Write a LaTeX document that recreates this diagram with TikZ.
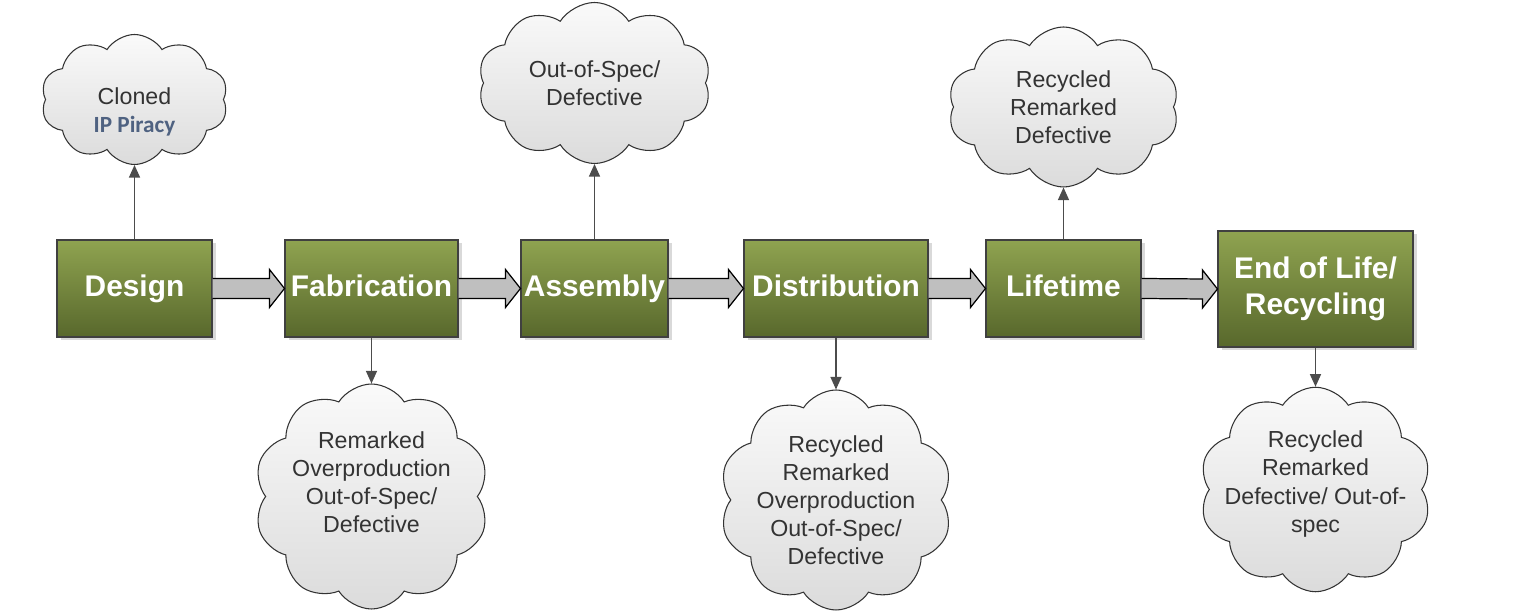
\documentclass[tikz,border=0pt]{standalone}
\usepackage{fontspec}
\setmainfont{Liberation Sans}
\newfontfamily\calibrifont{Carlito}
\usepackage{xcolor}
\usepackage{tikz}
\usetikzlibrary{arrows.meta, shapes.symbols, positioning, shadows, calc}

\definecolor{stagetop}{RGB}{143,163,80}
\definecolor{stagebot}{RGB}{88,104,44}
\definecolor{piracy}{RGB}{79,98,129}

\begin{document}
\begin{tikzpicture}[>={Triangle[length=0.25cm, width=0.22cm]},
        font=\fontsize{13.2}{16}\selectfont,
        stage/.style={draw=black!75, line width=0.6pt, top color=stagetop, bottom color=stagebot,
              text=white, font=\fontsize{17}{20.5}\selectfont\bfseries, align=center,
              inner sep=1pt, minimum height=1.94cm,
              drop shadow={shadow xshift=0.07cm, shadow yshift=-0.07cm, fill=black, opacity=0.15}},
        oneline/.style={stage, text height=1em, text depth=0.1em},
        issue/.style={cloud, cloud puffs=10, cloud puff arc=115, cloud ignores aspect,
              draw=black!80, line width=0.6pt,
              top color=gray!4, bottom color=gray!28, inner sep=0pt},
        threat/.style={issue, label={[text=black!80, align=center]center:#1}},
        feed/.style={draw=black!70, line width=0.7pt, ->},
        flow/.style={draw=black, line width=0.7pt, fill=black!25}]
        \useasboundingbox (0,0) rectangle (30.7,12.22);

        % supply chain stages
        \node[oneline, minimum width=3.1cm] (design) at (2.69,6.45) {Design};
        \node[oneline, minimum width=3.46cm] (fab) at (7.43,6.45) {Fabrication};
        \node[oneline, minimum width=2.94cm] (asm) at (11.89,6.45) {Assembly};
        \node[oneline, minimum width=3.68cm] (dist) at (16.72,6.45) {Distribution};
        \node[oneline, minimum width=3.1cm] (life) at (21.27,6.45) {Lifetime};
        \node[stage, minimum width=3.9cm, minimum height=2.32cm]
              (eol) at (26.31,6.44) {End of Life/\\Recycling};

        % counterfeit types
        \node[issue, minimum width=3.74cm, minimum height=2.6cm,
              label={[text=black!80, align=center, yshift=-0.24cm]center:Cloned\\{\calibrifont\bfseries\color{piracy}IP Piracy}}]
              (cloned) at (2.69,10.23) {};
        \node[threat={Out-of-Spec/\\Defective},
              minimum width=4.66cm, minimum height=3.22cm] (oos) at (11.89,10.56) {};
        \node[threat={Recycled\\Remarked\\Defective},
              minimum width=4.62cm, minimum height=3.2cm] (lifec) at (21.27,10.08) {};
        \node[issue, minimum width=4.7cm, minimum height=4.5cm,
              label={[text=black!80, align=center, yshift=0.29cm]center:Remarked\\Overproduction\\Out-of-Spec/\\Defective}]
              (fabc) at (7.43,2.29) {};
        \node[threat={Recycled\\Remarked\\Overproduction\\Out-of-Spec/\\Defective},
              minimum width=4.66cm, minimum height=4.4cm] (distc) at (16.72,2.22) {};
        \node[issue, minimum width=4.64cm, minimum height=4.09cm,
              label={[text=black!80, align=center, yshift=0.11cm]center:Recycled\\Remarked\\Defective/ Out-of-\\spec}]
              (eolc) at (26.31,2.43) {};

        % block arrows between stages
        \foreach \a/\b in {design/fab, fab/asm, asm/dist, dist/life, life/eol}
          \draw[flow] ($(\a.east)+(0,0.2)$) -- ($(\b.west)+(-0.3,0.2)$) -- ($(\b.west)+(-0.3,0.38)$)
                -- (\b.west) -- ($(\b.west)+(-0.3,-0.38)$) -- ($(\b.west)+(-0.3,-0.2)$)
                -- ($(\a.east)+(0,-0.2)$);

        \draw[feed] (design) -- (cloned);
        \draw[feed] (asm) -- (oos);
        \draw[feed] (life) -- (lifec);
        \draw[feed] (fab) -- (fabc);
        \draw[feed] (dist) -- (distc);
        \draw[feed] (eol) -- (eolc);
      \end{tikzpicture}
\end{document}
